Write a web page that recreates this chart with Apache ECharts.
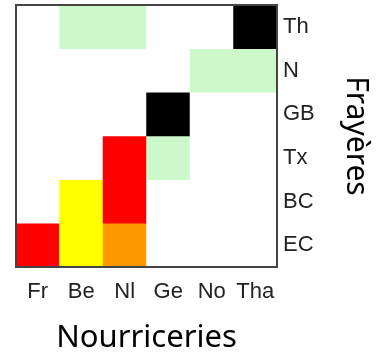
<!DOCTYPE html>
<html>
<head>
<meta charset="utf-8">
<script src="https://cdn.jsdelivr.net/npm/echarts@6/dist/echarts.min.js"></script>
<style>html,body{margin:0;padding:0;background:#fff;}#c{width:385px;height:352px;}</style>
</head>
<body>
<div id="c"></div>
<script>
var nurseries = ['Fr', 'Be', 'Nl', 'Ge', 'No', 'Tha'];
var spawning = ['EC', 'BC', 'Tx', 'GB', 'N', 'Th'];
// level per cell: rows = spawning (bottom to top), cols = nurseries
var levels = [
  [4, 2, 3, 0, 0, 0], // EC
  [0, 2, 4, 0, 0, 0], // BC
  [0, 0, 4, 1, 0, 0], // Tx
  [0, 0, 0, 5, 0, 0], // GB
  [0, 0, 0, 0, 1, 1], // N
  [0, 1, 1, 0, 0, 5]  // Th
];
var levelColors = ['#ffffff', '#ccf8cc', '#ffff00', '#ff9900', '#ff0000', '#000000'];

var data = [];
for (var r = 0; r < spawning.length; r++) {
  for (var c = 0; c < nurseries.length; c++) {
    data.push([c, r, levels[r][c]]);
  }
}
var pieces = levelColors.map(function (col, i) { return { value: i, color: col }; });

var labelStyle = { fontFamily: 'Liberation Sans', fontSize: 22, color: '#222', interval: 0, hideOverlap: false };
var lineStyle = { color: '#444', width: 2 };

var chart = echarts.init(document.getElementById('c'));
chart.setOption({
  animation: false,
  grid: { left: 16, right: 108, top: 5, bottom: 85, containLabel: false, outerBoundsMode: 'none' },
  visualMap: { type: 'piecewise', show: false, dimension: 2, pieces: pieces },
  xAxis: [{
    type: 'category', data: nurseries, position: 'bottom', z: 10,
    axisLine: { show: true, lineStyle: lineStyle },
    axisTick: { show: false }, splitLine: { show: false },
    axisLabel: Object.assign({ margin: 14 }, labelStyle),
    name: 'Nourriceries', nameLocation: 'middle', nameGap: 56,
    nameTextStyle: { fontFamily: 'Noto Sans', fontSize: 31, color: '#000' }
  }, {
    type: 'category', data: nurseries, position: 'top', z: 10,
    axisLine: { show: true, lineStyle: lineStyle },
    axisTick: { show: false }, axisLabel: { show: false }, splitLine: { show: false }
  }],
  yAxis: [{
    type: 'category', data: spawning, position: 'right', z: 10,
    axisLine: { show: true, lineStyle: lineStyle },
    axisTick: { show: false }, splitLine: { show: false },
    axisLabel: Object.assign({ margin: 6 }, labelStyle),
    name: 'Frayères', nameLocation: 'middle', nameRotate: -90, nameGap: 64,
    nameTextStyle: { fontFamily: 'Noto Sans', fontSize: 30, color: '#000' }
  }, {
    type: 'category', data: spawning, position: 'left', z: 10,
    axisLine: { show: true, lineStyle: lineStyle },
    axisTick: { show: false }, axisLabel: { show: false }, splitLine: { show: false }
  }],
  series: [{
    type: 'heatmap', data: data, xAxisIndex: 0, yAxisIndex: 0,
    itemStyle: { borderWidth: 0 },
    emphasis: { disabled: true }
  }]
});
</script>
</body>
</html>
